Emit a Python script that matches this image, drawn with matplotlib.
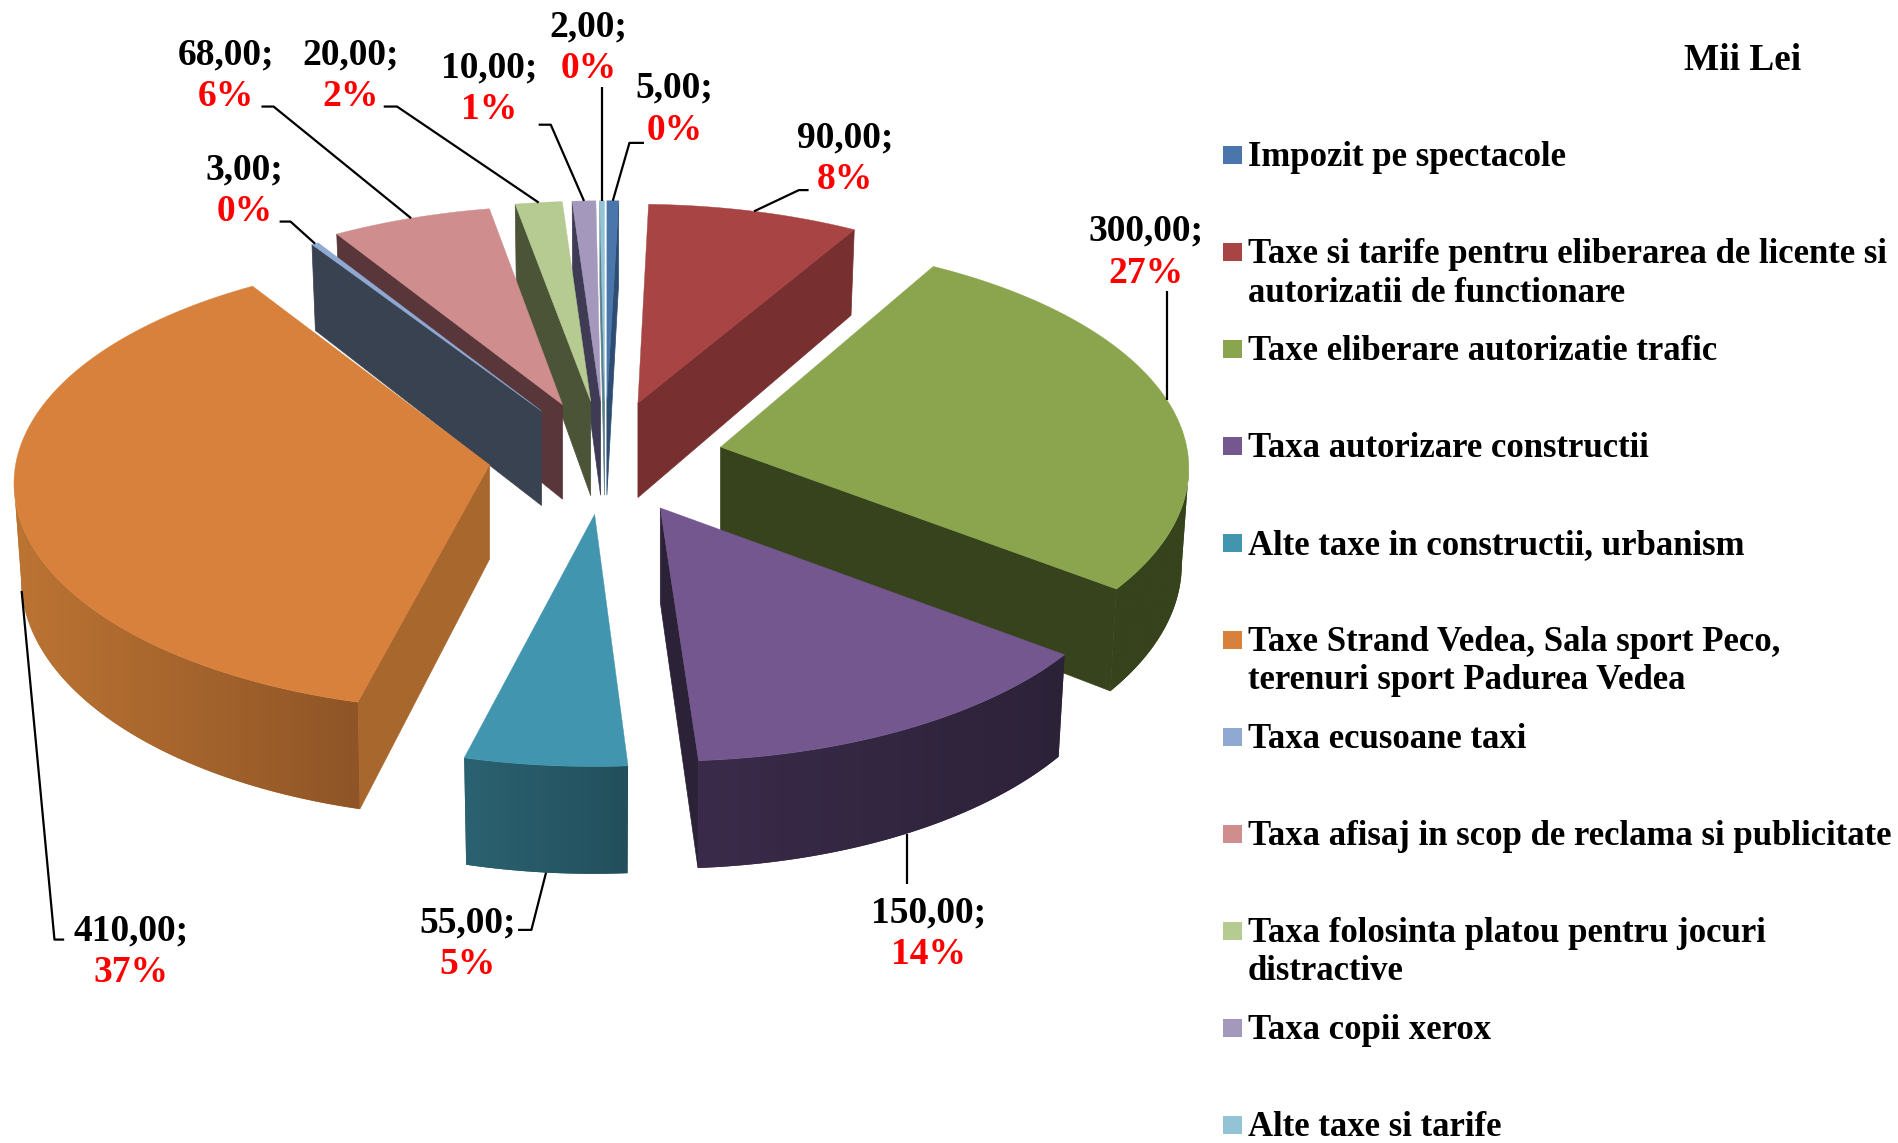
# plot.py - exploded 3D style pie chart, drawn by hand since matplotlib has no 3D pie
import numpy as np
import matplotlib
matplotlib.use('Agg')
import matplotlib.pyplot as plt
from matplotlib.colors import LinearSegmentedColormap
from matplotlib.patches import Polygon, Rectangle

# ============ DATA ============
categories = [
    'Impozit pe spectacole',
    'Taxe si tarife pentru eliberarea de licente si\nautorizatii de functionare',
    'Taxe eliberare autorizatie trafic',
    'Taxa autorizare constructii',
    'Alte taxe in constructii, urbanism',
    'Taxe Strand Vedea, Sala sport Peco,\nterenuri sport Padurea Vedea',
    'Taxa ecusoane taxi',
    'Taxa afisaj in scop de reclama si publicitate',
    'Taxa folosinta platou pentru jocuri\ndistractive',
    'Taxa copii xerox',
    'Alte taxe si tarife',
]
values = [5, 90, 300, 150, 55, 410, 3, 68, 20, 10, 2]
value_labels = ['5,00;', '90,00;', '300,00;', '150,00;', '55,00;', '410,00;',
                '3,00;', '68,00;', '20,00;', '10,00;', '2,00;']
pct_labels = ['0%', '8%', '27%', '14%', '5%', '37%', '0%', '6%', '2%', '1%', '0%']

# ============ STYLE ============
top_colors = ['#4A76AC', '#A94444', '#8AA54E', '#74578E', '#4295AE', '#D8813C',
              '#8FA9D2', '#CF8D8D', '#B6CB92', '#A598BD', '#92C4D6']
side_colors = ['#2F4D73', '#772F30', '#36431C', '#2C2238', '#265A69', '#A8672D',
               '#394250', '#58363A', '#4C5438', '#3F3B55', '#5A7F8C']
rim_left = ['#2F4D73', '#772F30', '#36431C', '#3A2B4A', '#2B6271', '#BC7433',
            '#394250', '#58363A', '#4C5438', '#3F3B55', '#5A7F8C']
rim_right = ['#2F4D73', '#772F30', '#36431C', '#2C2238', '#234F5C', '#8F5527',
             '#394250', '#58363A', '#4C5438', '#3F3B55', '#5A7F8C']

# geometry of the fake 3D view, in the 1568x944 frame
CX, CY = 500, 378
EXPLODE_X, EXPLODE_Y = 97, 47
RX, RY = 388, 185
PERSP = 0.12
DEPTH = 78
BOTTOM_SHRINK = 0.985
# per slice nudges, the original is not a clean projection
apex_dy = [0, 0, 0, 0, 0, -2, 1, 0, 0, 0, 0]
rim_dx = [0, -1, -4, 3, -1, -2, 4, 2, 0, 0, 0]
rim_dy = [0, 1, -5, -1, -2, -7, 3, 1, 0, 0, 0]

# label layout: centre of first line, then leader elbow and end (None = straight)
label_x = [557, 698, 947, 767, 386, 108, 202, 187, 290, 404, 486]
label_y = [73, 114, 191, 754, 762, 769, 140, 45, 45, 56, 22]
elbow = [(520, 118), (660, 157), None, None, (439, 768), (45, 776),
         (240, 183), (226, 88), (328, 88), (455, 103), None]
leader_end = [(532, 118), (668, 157), (963, 240), (745, 730), (428, 768), (53, 776),
              (231, 183), (216, 88), (317, 88), (445, 103), (495, 72)]
LABEL_GAP = 34.5
LABEL_SIZE = 27

LEGEND_X = 1010
LEGEND_TOP = 128
LEGEND_STEP = 80.1
LEGEND_SIZE = 25

plt.rcParams['font.family'] = ['Liberation Serif', 'DejaVu Serif']

fig = plt.figure(figsize=(18.98, 11.43), dpi=100)
ax = fig.add_axes([0, 0, 1, 1])
ax.axis('off')

# ============ SLICE GEOMETRY ============
vals = np.array(values, dtype=float)
edges = np.concatenate([[0], np.cumsum(vals)]) / vals.sum() * 2 * np.pi
mids = (edges[:-1] + edges[1:]) / 2


def apex(i):
    theta = mids[i]
    return np.array([CX + EXPLODE_X * np.sin(theta),
                     CY + apex_dy[i] - EXPLODE_Y * np.cos(theta)])


def project(i, center, theta):
    # point on the slice's outer edge, front of the pie drawn larger
    u, v = np.sin(theta), -np.cos(theta)
    s = 1 / (1 - PERSP * v)
    pts = np.column_stack([center[0] + rim_dx[i] + RX * u * s,
                           center[1] + rim_dy[i] + RY * v * s])
    return pts, s


def lower(pts, s, a):
    low = pts + np.column_stack([np.zeros_like(s), DEPTH * s])
    low[:, 0] = a[0] + (low[:, 0] - a[0]) * BOTTOM_SHRINK
    return low


def draw_slice(i, z):
    a = apex(i)
    n_pts = max(4, int(np.degrees(edges[i + 1] - edges[i]) * 2))
    thetas = np.linspace(edges[i], edges[i + 1], n_pts)
    pts, s = project(i, a, thetas)
    low = lower(pts, s, a)
    a_low = a + [0, DEPTH]

    # radial walls, only those turned towards the viewer
    if pts[0, 0] < a[0]:
        ax.add_patch(Polygon([a, pts[0], low[0], a_low], fc=side_colors[i],
                             ec=side_colors[i], lw=0.5, zorder=z))
    if pts[-1, 0] > a[0]:
        ax.add_patch(Polygon([a, pts[-1], low[-1], a_low], fc=side_colors[i],
                             ec=side_colors[i], lw=0.5, zorder=z))

    # outer rim, a horizontal gradient clipped to the rim outline
    visible = np.where(np.diff(pts[:, 0]) < 0)[0]
    if len(visible):
        idx = np.append(visible, visible[-1] + 1)
        outline = np.vstack([pts[idx], low[idx][::-1]])
        clip = Polygon(outline, fc=rim_left[i], ec='none', transform=ax.transData, zorder=z)
        ax.add_patch(clip)
        x0, x1 = outline[:, 0].min(), outline[:, 0].max()
        y0, y1 = outline[:, 1].min(), outline[:, 1].max()
        cmap = LinearSegmentedColormap.from_list('rim', [rim_left[i], rim_right[i]])
        im = ax.imshow(np.linspace(0, 1, 256)[None, :], cmap=cmap, aspect='auto',
                       extent=(x0, x1, y1, y0), zorder=z, interpolation='bilinear')
        im.set_clip_path(clip)

    # top face
    ax.add_patch(Polygon(np.vstack([a, pts]), fc=top_colors[i], ec=top_colors[i],
                         lw=0.3, zorder=z + 0.5))


# painter's order, back of the pie first
for z, i in enumerate(np.argsort(-np.cos(mids))):
    draw_slice(i, 3 + z)

# ============ LABELS + LEADERS ============
for i in range(len(values)):
    a = apex(i)
    pt, s = project(i, a, np.array([mids[i]]))
    start = pt[0].copy()
    if -np.cos(mids[i]) > 0:
        start = lower(pt, s, a)[0]
    end = leader_end[i]
    if elbow[i] is None:
        path = [start, (start[0], end[1])]
    else:
        path = [start, elbow[i], end]
    path = np.array(path, dtype=float)
    ax.plot(path[:, 0], path[:, 1], color='black', lw=1.6, zorder=30,
            solid_capstyle='butt')
    ax.text(label_x[i], label_y[i], value_labels[i], color='black', fontsize=LABEL_SIZE,
            fontweight='bold', ha='center', va='center', zorder=31)
    ax.text(label_x[i], label_y[i] + LABEL_GAP, pct_labels[i], color='#FF0000',
            fontsize=LABEL_SIZE, fontweight='bold', ha='center', va='center', zorder=31)

# ============ LEGEND ============
ax.text(1440, 50, 'Mii Lei', color='black', fontsize=26.8, fontweight='bold',
        ha='center', va='center')
for i, name in enumerate(categories):
    y = LEGEND_TOP + i * LEGEND_STEP
    ax.add_patch(Rectangle((LEGEND_X, y - 7.5), 16, 15, fc=top_colors[i], ec='none'))
    ax.text(LEGEND_X + 21, y - 11.5, name, color='black', fontsize=LEGEND_SIZE,
            fontweight='bold', ha='left', va='top', linespacing=1.22)

ax.set_xlim(0, 1568)
ax.set_ylim(944, 0)

fig.savefig('out.png', dpi=100)
